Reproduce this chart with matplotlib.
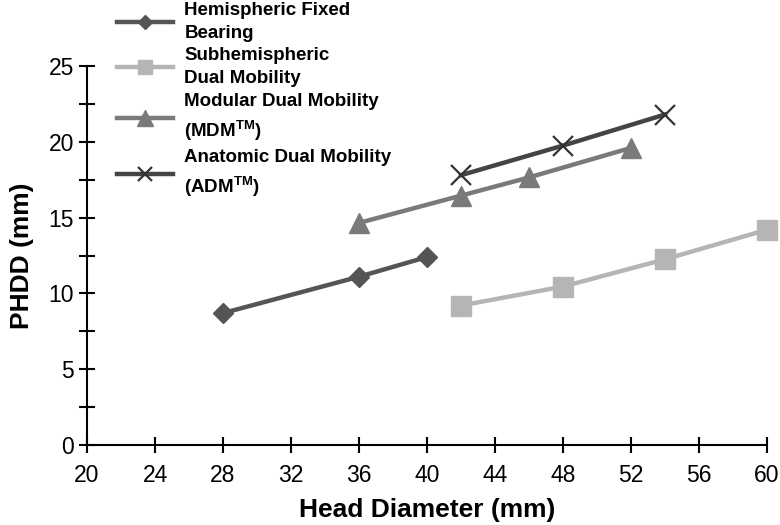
import matplotlib
matplotlib.use("Agg")
import matplotlib.pyplot as plt

plt.rcParams['font.family'] = ['Liberation Sans', 'DejaVu Sans']
plt.rcParams['mathtext.fontset'] = 'custom'
plt.rcParams['mathtext.rm'] = 'Liberation Sans:bold'
plt.rcParams['mathtext.bf'] = 'Liberation Sans:bold'

hfb_x = [28, 36, 40]
hfb_y = [8.7, 11.1, 12.4]
sdm_x = [42, 48, 54, 60]
sdm_y = [9.2, 10.45, 12.25, 14.2]
mdm_x = [36, 42, 46, 52]
mdm_y = [14.65, 16.45, 17.65, 19.6]
adm_x = [42, 48, 54]
adm_y = [17.8, 19.75, 21.8]

labels = ["Hemispheric Fixed\nBearing",
          "Subhemispheric\nDual Mobility",
          "Modular Dual Mobility\n(MDM$^{\\mathrm{TM}}$)",
          "Anatomic Dual Mobility\n(ADM$^{\\mathrm{TM}}$)"]
x_ticks = [20, 24, 28, 32, 36, 40, 44, 48, 52, 56, 60]
y_ticks = [0, 5, 10, 15, 20, 25]

fig = plt.figure(figsize=(7.8, 5.25), dpi=100)
ax = fig.add_axes([87/780, 1-445/525, (767-87)/780, (445-66)/525])

l1, = ax.plot(hfb_x, hfb_y, color='#555555', lw=3.2, marker='D', ms=10,
              clip_on=False, zorder=3)
l2, = ax.plot(sdm_x, sdm_y, color='#b5b5b5', lw=3.2, marker='s', ms=14,
              clip_on=False, zorder=3)
l3, = ax.plot(mdm_x, mdm_y, color='#7a7a7a', lw=3.2, marker='^', ms=15,
              clip_on=False, zorder=3)
l4, = ax.plot(adm_x, adm_y, color='#444444', lw=3.2, marker='x', ms=14,
              mew=1.6, mec='#333333', clip_on=False, zorder=4)

ax.set_xlim(20, 60)
ax.set_ylim(0, 25)
ax.set_xticks(x_ticks)
ax.set_yticks(y_ticks)
ax.set_yticks([2.5, 7.5, 12.5, 17.5, 22.5], minor=True)
ax.spines['top'].set_visible(False)
ax.spines['right'].set_visible(False)
for s in ['left', 'bottom']:
    ax.spines[s].set_linewidth(1.5)
ax.tick_params(axis='both', which='both', direction='inout', length=11,
               width=1.5, labelsize=16.5, pad=4)
ax.tick_params(axis='x', pad=8)
ax.set_xlabel("Head Diameter (mm)", fontsize=19, fontweight='bold', labelpad=8)
ax.set_ylabel("PHDD (mm)", fontsize=19, fontweight='bold', labelpad=10)

leg = fig.legend([l1, l2, l3, l4], labels, loc='upper left',
                 bbox_to_anchor=(115/780, 1.0), frameon=False,
                 borderaxespad=0, borderpad=0.1,
                 prop={'weight': 'bold', 'size': 13.5}, handlelength=3.0,
                 labelspacing=0.3, handletextpad=0.6, markerscale=0.75)
for t in leg.get_texts():
    t.set_linespacing(1.45)

fig.savefig("out.png", dpi=100)
